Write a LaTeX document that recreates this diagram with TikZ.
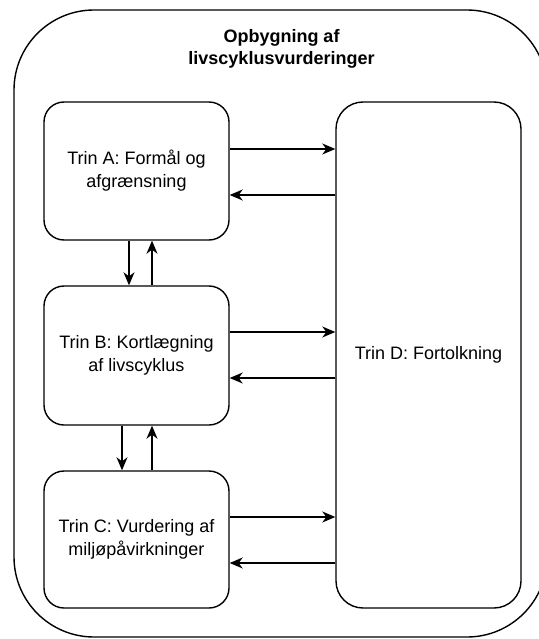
\documentclass[tikz,border=0pt]{standalone}
\usepackage{fontspec}
\setmainfont{Liberation Sans}
\usetikzlibrary{arrows.meta}

\tikzset{
  stage/.style={draw=black, line width=1.4pt, rounded corners=20pt,
    minimum width=185pt, minimum height=138pt, align=center,
    font=\fontsize{18pt}{23pt}\selectfont, inner sep=0pt},
  arr/.style={line width=1.4pt, -{Stealth[length=13pt, width=11pt, inset=4pt]}},
}

\begin{document}
\begin{tikzpicture}[x=1pt, y=-1pt]
  \useasboundingbox (0,0) rectangle (538,639);

  % enclosing frame and its heading
  \node[draw=black, line width=1.4pt, rounded corners=80pt,
        minimum width=533pt, minimum height=627pt, inner sep=0pt]
        (frame) at (280.5,323.5) {};
  \node[align=center, font=\bfseries\fontsize{18pt}{22pt}\selectfont]
        (title) at (281.5,49) {Opbygning af\\livscyklusvurderinger};

  % the four stages
  \node[stage] (A) at (136.5,171) {Trin A: Formål og\\afgrænsning};
  \node[stage, minimum height=139pt] (B) at (136.5,355.5) {Trin B: Kortlægning\\af livscyklus};
  \node[stage, minimum height=137pt] (C) at (136.5,539.5) {Trin C: Vurdering af\\miljøpåvirkninger};
  \node[stage, rounded corners=27pt, minimum height=506pt] (D) at (428.5,355) {Trin D: Fortolkning};

  % links between the stages on the left
  \draw[arr] ([xshift=-7.5pt]A.south) -- ([xshift=-7.5pt]A.south |- B.north);
  \draw[arr] ([xshift=15.5pt]B.north) -- ([xshift=15.5pt]B.north |- A.south);
  \draw[arr] ([xshift=-14.5pt]B.south) -- ([xshift=-14.5pt]B.south |- C.north);
  \draw[arr] ([xshift=15.5pt]C.north) -- ([xshift=15.5pt]C.north |- B.south);

  % links to and from the interpretation stage
  \draw[arr] ([yshift=22pt]A.east) -- ([yshift=22pt]A.east -| D.west);
  \draw[arr] ([yshift=-24pt]A.east -| D.west) -- ([yshift=-24pt]A.east);
  \draw[arr] ([yshift=23.5pt]B.east) -- ([yshift=23.5pt]B.east -| D.west);
  \draw[arr] ([yshift=-22.5pt]B.east -| D.west) -- ([yshift=-22.5pt]B.east);
  \draw[arr] ([yshift=22.5pt]C.east) -- ([yshift=22.5pt]C.east -| D.west);
  \draw[arr] ([yshift=-23.5pt]C.east -| D.west) -- ([yshift=-23.5pt]C.east);
\end{tikzpicture}
\end{document}
